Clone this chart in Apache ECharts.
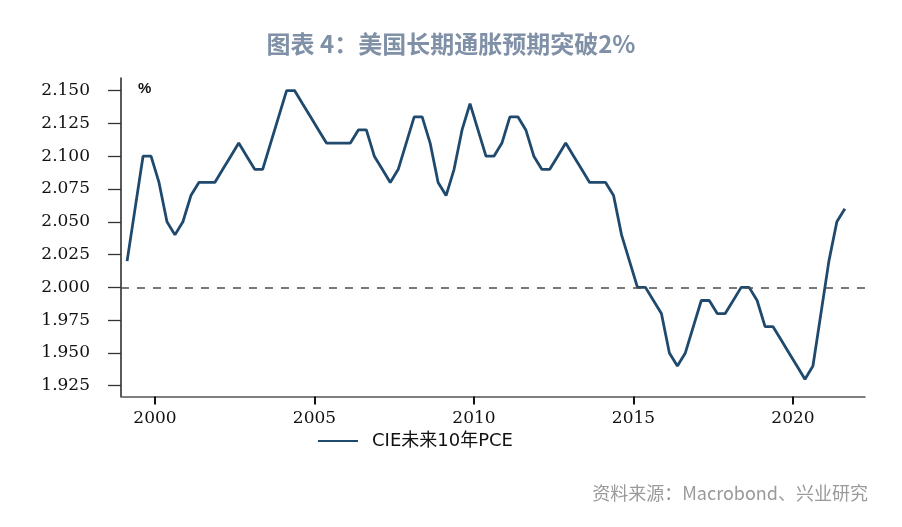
<!DOCTYPE html>
<html>
<head>
<meta charset="utf-8">
<script src="https://cdn.jsdelivr.net/npm/echarts@6/dist/echarts.min.js"></script>
<style>
  html, body { margin: 0; padding: 0; background: #ffffff; }
  #chart { width: 902px; height: 527px; }
</style>
</head>
<body>
<div id="chart"></div>
<script>
// ---- Data (quarterly, starting 1999 Q1) ----
const firstYear = 1999;
const firstQuarter = 1;
const seriesName = 'CIE未来10年PCE';
const pceExpect = [
  2.02, 2.06, 2.10, 2.10,   // 1999
  2.08, 2.05, 2.04, 2.05,   // 2000
  2.07, 2.08, 2.08, 2.08,   // 2001
  2.09, 2.10, 2.11, 2.10,   // 2002
  2.09, 2.09, 2.11, 2.13,   // 2003
  2.15, 2.15, 2.14, 2.13,   // 2004
  2.12, 2.11, 2.11, 2.11,   // 2005
  2.11, 2.12, 2.12, 2.10,   // 2006
  2.09, 2.08, 2.09, 2.11,   // 2007
  2.13, 2.13, 2.11, 2.08,   // 2008
  2.07, 2.09, 2.12, 2.14,   // 2009
  2.12, 2.10, 2.10, 2.11,   // 2010
  2.13, 2.13, 2.12, 2.10,   // 2011
  2.09, 2.09, 2.10, 2.11,   // 2012
  2.10, 2.09, 2.08, 2.08,   // 2013
  2.08, 2.07, 2.04, 2.02,   // 2014
  2.00, 2.00, 1.99, 1.98,   // 2015
  1.95, 1.94, 1.95, 1.97,   // 2016
  1.99, 1.99, 1.98, 1.98,   // 2017
  1.99, 2.00, 2.00, 1.99,   // 2018
  1.97, 1.97, 1.96, 1.95,   // 2019
  1.94, 1.93, 1.94, 1.98,   // 2020
  2.02, 2.05, 2.06          // 2021
];
const xTickYears = [2000, 2005, 2010, 2015, 2020];
const yTickValues = [1.925, 1.950, 1.975, 2.000, 2.025, 2.050, 2.075, 2.100, 2.125, 2.150];
const referenceLevel = 2.0;
const titleText = '图表 4：美国长期通胀预期突破2%';
const sourceText = '资料来源：Macrobond、兴业研究';

// quarter -> decimal year at mid-quarter
const points = pceExpect.map((v, i) => {
  const qIndex = (firstQuarter - 1) + i;
  const year = firstYear + Math.floor(qIndex / 4);
  const q = qIndex % 4;
  return [year + q * 0.25 + 0.125, v];
});

const chart = echarts.init(document.getElementById('chart'), null, { renderer: 'canvas' });
const serif = 'DejaVu Serif';
chart.setOption({
  animation: false,
  backgroundColor: '#ffffff',
  title: [
    {
      text: titleText,
      left: 'center',
      top: 27,
      textStyle: { fontFamily: 'Noto Sans CJK SC', fontSize: 24, fontWeight: 'bold', color: '#8090a6' }
    },
    {
      text: sourceText,
      right: 29,
      top: 479,
      textStyle: { fontFamily: 'Noto Sans CJK SC', fontSize: 18, fontWeight: 'normal', color: '#9a9a9a' }
    }
  ],
  legend: {
    left: 313,
    top: 427,
    itemWidth: 40,
    itemHeight: 2,
    icon: 'rect',
    itemStyle: { color: '#1f4a6e' },
    textStyle: { fontFamily: 'DejaVu Sans, Noto Sans CJK SC', fontSize: 18, color: '#111', padding: [0, 0, 0, 9] },
    data: [seriesName]
  },
  grid: { left: 121, right: 37, top: 78, bottom: 130.5, outerBoundsMode: 'none' },
  xAxis: {
    type: 'value',
    min: 1998.934,
    max: 2022.257,
    splitLine: { show: false },
    axisLine: { show: true, lineStyle: { color: '#555', width: 1.5 } },
    axisTick: { show: true, customValues: xTickYears, length: 8, lineStyle: { color: '#111', width: 2 } },
    axisLabel: {
      customValues: xTickYears,
      formatter: v => String(Math.round(v)),
      fontFamily: serif, fontSize: 17, color: '#111', margin: 14
    }
  },
  yAxis: {
    type: 'value',
    min: 1.9168,
    max: 2.1596,
    name: '%',
    nameLocation: 'end',
    nameGap: -11,
    nameTextStyle: {
      fontFamily: 'Liberation Sans', fontSize: 15, fontWeight: 'bold', color: '#111',
      align: 'left', verticalAlign: 'middle', padding: [0, 0, 0, 17]
    },
    splitLine: { show: false },
    axisLine: { show: true, lineStyle: { color: '#222', width: 1.5 } },
    axisTick: { show: true, customValues: yTickValues, length: 13, lineStyle: { color: '#333', width: 1.3 } },
    axisLabel: {
      customValues: yTickValues,
      formatter: v => v.toFixed(3),
      fontFamily: serif, fontSize: 17, color: '#111', margin: 31
    }
  },
  series: [
    {
      name: seriesName,
      type: 'line',
      data: points,
      symbol: 'none',
      lineStyle: { color: '#1f4a6e', width: 2.8 },
      itemStyle: { color: '#1f4a6e' },
      markLine: {
        silent: true,
        symbol: ['none', 'none'],
        label: { show: false },
        lineStyle: { type: [8, 8], color: '#4d4d4d', width: 1.5 },
        data: [{ yAxis: referenceLevel }]
      }
    }
  ]
});
</script>
</body>
</html>
